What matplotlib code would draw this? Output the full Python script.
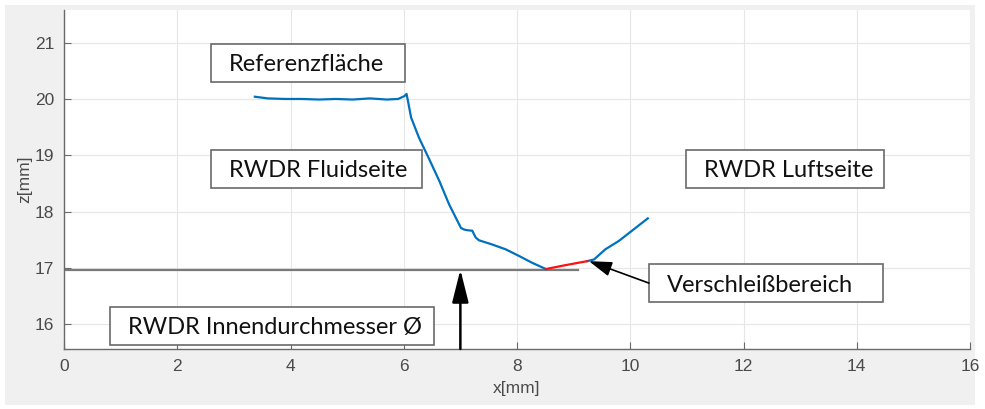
import matplotlib
matplotlib.use("Agg")
import matplotlib.pyplot as plt
from matplotlib.patches import Rectangle

# measured profile (left blue part, wear zone in red, right blue part)
profile_x = [3.37, 3.6, 3.9, 4.2, 4.5, 4.8, 5.1, 5.4, 5.7, 5.9, 6.01, 6.05, 6.13, 6.27, 6.45,
             6.63, 6.80, 7.01, 7.07, 7.12, 7.21, 7.27, 7.33, 7.55, 7.80, 8.04, 8.27, 8.51]
profile_z = [20.04, 20.01, 20.0, 20.0, 19.99, 20.0, 19.99, 20.01, 19.99, 20.0, 20.05, 20.09, 19.67, 19.31, 18.93,
             18.54, 18.13, 17.71, 17.68, 17.67, 17.66, 17.54, 17.49, 17.42, 17.33, 17.21, 17.09, 16.98]
wear_x = [8.51, 8.86, 9.24]
wear_z = [16.98, 17.05, 17.12]
air_x = [9.24, 9.36, 9.56, 9.80, 10.03, 10.31]
air_z = [17.12, 17.15, 17.33, 17.48, 17.66, 17.88]

inner_diameter = 16.97
inner_line_x = [0.0, 9.07]

# annotation boxes: label, x0, x1, z0, z1
boxes = [
    ("Referenzfläche", 2.59, 6.03, 20.30, 20.98),
    ("RWDR Fluidseite", 2.59, 6.33, 18.42, 19.10),
    ("RWDR Luftseite", 10.98, 14.49, 18.42, 19.10),
    ("Verschleißbereich", 10.33, 14.47, 16.39, 17.07),
    ("RWDR Innendurchmesser Ø", 0.81, 6.54, 15.63, 16.31),
]

fig = plt.figure(figsize=(9.85, 4.09), dpi=100, facecolor="white")
fig.patches.append(Rectangle((5 / 985, 4 / 409), 970 / 985, 400 / 409,
                             transform=fig.transFigure, facecolor="#f0f0f0",
                             edgecolor="none", zorder=-10))
ax = fig.add_axes([64 / 985, 60 / 409, 906 / 985, 339 / 409])
ax.set_facecolor("white")

ax.plot(inner_line_x, [inner_diameter] * 2, color="#7a7a7a", linewidth=1.6, zorder=2)
ax.plot(profile_x, profile_z, color="#0072BD", linewidth=1.6, zorder=3)
ax.plot(air_x, air_z, color="#0072BD", linewidth=1.6, zorder=3)
ax.plot(wear_x, wear_z, color="#ff1010", linewidth=1.6, zorder=4)

ax.set_xlim(0, 16)
ax.set_ylim(15.56, 21.58)
ax.set_xticks(range(0, 17, 2))
ax.set_yticks([16, 17, 18, 19, 20, 21])
ax.grid(True, color="#e6e6e6", linewidth=0.8)
ax.set_axisbelow(True)
ax.spines[["top", "right"]].set_visible(False)
for side in ("left", "bottom"):
    ax.spines[side].set_color("#6a6a6a")
    ax.spines[side].set_linewidth(1.0)
ax.tick_params(direction="in", length=5, colors="#6a6a6a", labelcolor="#4a4a4a",
               labelsize=12.5, pad=7)
for lab in ax.get_xticklabels() + ax.get_yticklabels():
    lab.set_fontfamily("Liberation Sans")
ax.set_xlabel("x[mm]", fontsize=12.5, color="#4a4a4a", family="Liberation Sans", labelpad=5)
ax.set_ylabel("z[mm]", fontsize=12.5, color="#4a4a4a", family="Liberation Sans", labelpad=2)

for label, x0, x1, z0, z1 in boxes:
    ax.add_patch(Rectangle((x0, z0), x1 - x0, z1 - z0, facecolor="white",
                           edgecolor="#6a6a6a", linewidth=1.2, zorder=5))
    ax.text(x0 + 0.32, (z0 + z1) / 2, label, ha="left", va="center_baseline",
            fontsize=17.0, family="Lato", color="#111111", zorder=6)

ax.annotate("", xy=(7.0, inner_diameter), xytext=(7.0, 15.56),
            arrowprops=dict(arrowstyle="-|>,head_length=2.0,head_width=0.5",
                            mutation_scale=10, color="black", lw=1.8,
                            shrinkA=0, shrinkB=0), zorder=6)
ax.annotate("", xy=(9.27, 17.12), xytext=(10.33, 16.73),
            arrowprops=dict(arrowstyle="-|>,head_length=1.4,head_width=0.45",
                            mutation_scale=10, color="black", lw=1.2,
                            shrinkA=0, shrinkB=0), zorder=6)

fig.savefig("out.png", dpi=100, facecolor=fig.get_facecolor())
